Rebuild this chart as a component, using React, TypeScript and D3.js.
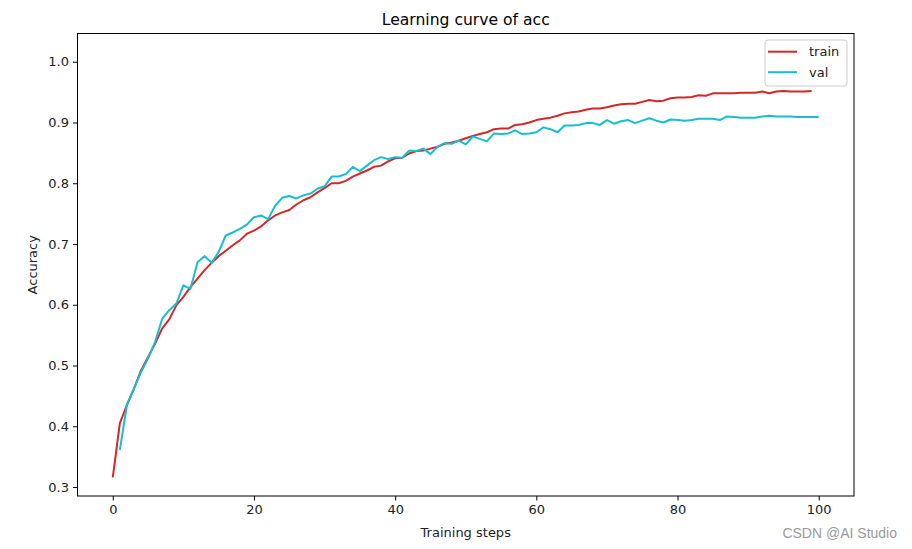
import React, { useEffect, useRef } from "react";
import * as d3 from "d3";

const trainSteps: number[] = d3.range(0, 100);
const trainAcc: number[] = [
  0.316, 0.405, 0.435, 0.462, 0.492, 0.514, 0.536, 0.561, 0.576, 0.599,
  0.613, 0.629, 0.643, 0.657, 0.669, 0.680, 0.689, 0.698, 0.706, 0.717,
  0.722, 0.729, 0.739, 0.747, 0.752, 0.756, 0.765, 0.772, 0.777, 0.785,
  0.792, 0.800, 0.800, 0.804, 0.811, 0.816, 0.821, 0.827, 0.829, 0.836,
  0.841, 0.842, 0.849, 0.853, 0.854, 0.857, 0.860, 0.865, 0.867, 0.870,
  0.874, 0.878, 0.881, 0.884, 0.889, 0.890, 0.890, 0.896, 0.897, 0.900,
  0.904, 0.906, 0.908, 0.911, 0.915, 0.917, 0.918, 0.921, 0.923, 0.923,
  0.925, 0.928, 0.930, 0.931, 0.931, 0.934, 0.937, 0.935, 0.936, 0.940,
  0.941, 0.941, 0.942, 0.945, 0.944, 0.948, 0.948, 0.948, 0.948, 0.949,
  0.949, 0.949, 0.951, 0.948, 0.951, 0.952, 0.951, 0.951, 0.951, 0.952,
];

const valSteps: number[] = d3.range(1, 101);
const valAcc: number[] = [
  0.361, 0.435, 0.462, 0.489, 0.512, 0.539, 0.577, 0.591, 0.602, 0.632,
  0.626, 0.670, 0.680, 0.669, 0.687, 0.714, 0.719, 0.725, 0.732, 0.744,
  0.747, 0.741, 0.763, 0.776, 0.779, 0.775, 0.780, 0.783, 0.791, 0.795,
  0.811, 0.811, 0.815, 0.827, 0.820, 0.829, 0.838, 0.843, 0.840, 0.843,
  0.842, 0.854, 0.853, 0.857, 0.848, 0.860, 0.866, 0.865, 0.870, 0.864,
  0.877, 0.873, 0.869, 0.882, 0.881, 0.882, 0.887, 0.881, 0.882, 0.884,
  0.892, 0.889, 0.884, 0.895, 0.895, 0.896, 0.899, 0.899, 0.896, 0.904,
  0.898, 0.902, 0.904, 0.899, 0.903, 0.907, 0.903, 0.900, 0.905, 0.904,
  0.903, 0.904, 0.906, 0.906, 0.906, 0.904, 0.910, 0.909, 0.908, 0.908,
  0.908, 0.910, 0.911, 0.910, 0.910, 0.910, 0.909, 0.909, 0.909, 0.909,
];

const xTicks: number[] = [0, 20, 40, 60, 80, 100];
const yTicks: number[] = [0.3, 0.4, 0.5, 0.6, 0.7, 0.8, 0.9, 1.0];
const seriesNames: string[] = ["train", "val"];
const seriesColors: string[] = ["#d62728", "#17becf"];

const W = 912;
const H = 549;
const M = { left: 77.5, right: 854, top: 33.5, bottom: 496 };
const FONT = "'DejaVu Sans', sans-serif";

export default function App() {
  const ref = useRef<SVGSVGElement>(null);

  useEffect(() => {
    const svg = d3.select(ref.current);
    svg.selectAll("*").remove();

    const x = d3.scaleLinear().domain([-5, 105]).range([M.left, M.right]);
    const y = d3.scaleLinear().domain([0.2852, 1.0465]).range([M.bottom, M.top]);

    svg.append("rect").attr("width", W).attr("height", H).attr("fill", "#fff");

    const line = d3
      .line<[number, number]>()
      .x((d) => x(d[0]))
      .y((d) => y(d[1]));

    const trainData: [number, number][] = trainSteps.map((s, i) => [s, trainAcc[i]]);
    const valData: [number, number][] = valSteps.map((s, i) => [s, valAcc[i]]);

    const g = svg.append("g");
    [trainData, valData].forEach((data, i) => {
      g.append("path")
        .datum(data)
        .attr("d", line)
        .attr("fill", "none")
        .attr("stroke", seriesColors[i])
        .attr("stroke-width", 2)
        .attr("stroke-linejoin", "round");
    });

    // frame
    svg
      .append("rect")
      .attr("x", M.left)
      .attr("y", M.top)
      .attr("width", M.right - M.left)
      .attr("height", M.bottom - M.top)
      .attr("fill", "none")
      .attr("stroke", "#000")
      .attr("stroke-width", 1);

    // x axis
    const xAxis = d3
      .axisBottom(x)
      .tickValues(xTicks)
      .tickSize(4.5)
      .tickPadding(4)
      .tickFormat((d) => String(d));
    const xg = svg.append("g").attr("transform", `translate(0,${M.bottom})`).call(xAxis);
    xg.select(".domain").remove();
    xg.selectAll("text").attr("font-family", FONT).attr("font-size", 13).attr("fill", "#222");
    xg.selectAll("line").attr("stroke", "#000");

    const yAxis = d3
      .axisLeft(y)
      .tickValues(yTicks)
      .tickSize(4.5)
      .tickPadding(4)
      .tickFormat(d3.format(".1f"));
    const yg = svg.append("g").attr("transform", `translate(${M.left},0)`).call(yAxis);
    yg.select(".domain").remove();
    yg.selectAll("text").attr("font-family", FONT).attr("font-size", 13).attr("fill", "#222");
    yg.selectAll("line").attr("stroke", "#000");

    // title
    svg
      .append("text")
      .attr("x", (M.left + M.right) / 2)
      .attr("y", 25)
      .attr("text-anchor", "middle")
      .attr("font-family", FONT)
      .attr("font-size", 15.6)
      .attr("fill", "#000")
      .text("Learning curve of acc");

    svg
      .append("text")
      .attr("x", (M.left + M.right) / 2)
      .attr("y", 537)
      .attr("text-anchor", "middle")
      .attr("font-family", FONT)
      .attr("font-size", 13)
      .attr("fill", "#222")
      .text("Training steps");

    svg
      .append("text")
      .attr("transform", `translate(37,${(M.top + M.bottom) / 2}) rotate(-90)`)
      .attr("text-anchor", "middle")
      .attr("font-family", FONT)
      .attr("font-size", 13)
      .attr("fill", "#222")
      .text("Accuracy");

    // legend
    const lg = svg.append("g");
    lg.append("rect")
      .attr("x", 765)
      .attr("y", 40)
      .attr("width", 82)
      .attr("height", 46)
      .attr("rx", 3)
      .attr("fill", "#fff")
      .attr("fill-opacity", 0.8)
      .attr("stroke", "#ccc")
      .attr("stroke-width", 1);
    seriesNames.forEach((name, i) => {
      const cy = 51.7 + i * 20.5;
      lg.append("line")
        .attr("x1", 768)
        .attr("x2", 797)
        .attr("y1", cy)
        .attr("y2", cy)
        .attr("stroke", seriesColors[i])
        .attr("stroke-width", 2);
      lg.append("text")
        .attr("x", 809)
        .attr("y", cy)
        .attr("dy", "0.35em")
        .attr("font-family", FONT)
        .attr("font-size", 13)
        .attr("fill", "#222")
        .text(name);
    });

    // watermark
    svg
      .append("text")
      .attr("x", 897)
      .attr("y", 538)
      .attr("text-anchor", "end")
      .attr("font-family", "'Liberation Sans', Arial, sans-serif")
      .attr("font-size", 14)
      .attr("fill", "#9a9a9a")
      .text("CSDN @AI Studio");
  }, []);

  return (
    <svg
      ref={ref}
      width={W}
      height={H}
      style={{ position: "absolute", left: 0, top: 0, display: "block" }}
    />
  );
}
